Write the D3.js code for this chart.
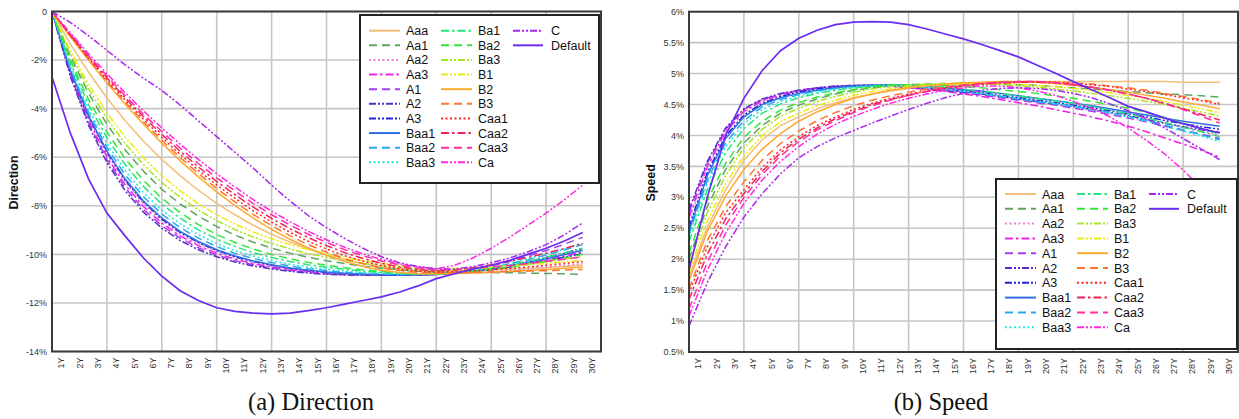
<!DOCTYPE html>
<html><head><meta charset="utf-8">
<script src="https://cdn.jsdelivr.net/npm/d3@7"></script>
<style>
html,body{margin:0;padding:0;background:#fff;}
svg{display:block;font-family:"Liberation Sans",Arial,sans-serif;}
</style></head><body>
<svg id="chart" width="1239" height="419"></svg>
<script>
const years = ["1Y","2Y","3Y","4Y","5Y","6Y","7Y","8Y","9Y","10Y","11Y","12Y","13Y","14Y","15Y","16Y","17Y","18Y","19Y","20Y","21Y","22Y","23Y","24Y","25Y","26Y","27Y","28Y","29Y","30Y"];
const seriesNames = ["Aaa","Aa1","Aa2","Aa3","A1","A2","A3","Baa1","Baa2","Baa3","Ba1","Ba2","Ba3","B1","B2","B3","Caa1","Caa2","Caa3","Ca","C","Default"];
const dirTicks = [0,-2,-4,-6,-8,-10,-12,-14];
const spdTicks = [6,5.5,5,4.5,4,3.5,3,2.5,2,1.5,1,0.5];

// Direction (%)
const dirAaa = [0,-1.33,-2.50,-3.56,-4.50,-5.34,-6.09,-6.76,-7.36,-7.90,-8.37,-8.80,-9.17,-9.49,-9.78,-10.01,-10.22,-10.38,-10.51,-10.61,-10.67,-10.70,-10.69,-10.67,-10.64,-10.61,-10.58,-10.54,-10.50,-10.45];
const dirAa1 = [0,-1.84,-3.37,-4.64,-5.70,-6.58,-7.32,-7.92,-8.43,-8.85,-9.21,-9.50,-9.74,-9.95,-10.12,-10.26,-10.38,-10.49,-10.57,-10.64,-10.70,-10.73,-10.74,-10.74,-10.75,-10.76,-10.77,-10.79,-10.80,-10.82];
const dirAa2 = [0,-2.48,-4.39,-5.87,-7.02,-7.92,-8.61,-9.15,-9.56,-9.88,-10.13,-10.32,-10.47,-10.60,-10.68,-10.75,-10.80,-10.83,-10.85,-10.85,-10.84,-10.82,-10.80,-10.77,-10.72,-10.66,-10.60,-10.53,-10.46,-10.38];
const dirAa3 = [0,-2.54,-4.49,-5.99,-7.14,-8.03,-8.71,-9.24,-9.64,-9.96,-10.20,-10.38,-10.52,-10.63,-10.71,-10.78,-10.82,-10.84,-10.85,-10.86,-10.85,-10.83,-10.79,-10.71,-10.62,-10.50,-10.37,-10.23,-10.07,-9.90];
const dirA1 = [0,-2.60,-4.59,-6.10,-7.26,-8.15,-8.82,-9.33,-9.73,-10.03,-10.26,-10.43,-10.56,-10.66,-10.74,-10.80,-10.84,-10.85,-10.85,-10.86,-10.85,-10.83,-10.76,-10.64,-10.48,-10.29,-10.07,-9.84,-9.58,-9.30];
const dirA2 = [0,-2.67,-4.69,-6.22,-7.38,-8.26,-8.92,-9.43,-9.81,-10.10,-10.32,-10.48,-10.60,-10.70,-10.77,-10.82,-10.85,-10.86,-10.86,-10.86,-10.85,-10.83,-10.78,-10.70,-10.58,-10.45,-10.30,-10.13,-9.95,-9.75];
const dirA3 = [0,-2.44,-4.33,-5.80,-6.95,-7.85,-8.55,-9.09,-9.51,-9.84,-10.10,-10.29,-10.45,-10.57,-10.66,-10.74,-10.79,-10.82,-10.84,-10.85,-10.84,-10.82,-10.78,-10.71,-10.62,-10.52,-10.40,-10.27,-10.12,-9.97];
const dirBaa1 = [0,-2.41,-4.29,-5.75,-6.90,-7.80,-8.50,-9.05,-9.47,-9.81,-10.07,-10.27,-10.43,-10.56,-10.65,-10.73,-10.79,-10.82,-10.84,-10.85,-10.84,-10.82,-10.78,-10.70,-10.59,-10.47,-10.33,-10.18,-10.01,-9.83];
const dirBaa2 = [0,-2.33,-4.16,-5.59,-6.73,-7.63,-8.34,-8.90,-9.33,-9.68,-9.96,-10.17,-10.34,-10.48,-10.59,-10.67,-10.74,-10.78,-10.81,-10.83,-10.83,-10.82,-10.77,-10.67,-10.54,-10.39,-10.22,-10.03,-9.82,-9.60];
const dirBaa3 = [0,-2.24,-4.03,-5.43,-6.56,-7.46,-8.18,-8.74,-9.19,-9.56,-9.85,-10.07,-10.26,-10.41,-10.52,-10.62,-10.69,-10.75,-10.78,-10.81,-10.82,-10.82,-10.76,-10.66,-10.53,-10.37,-10.19,-9.99,-9.78,-9.55];
const dirBa1 = [0,-2.12,-3.83,-5.20,-6.31,-7.21,-7.93,-8.51,-8.99,-9.37,-9.68,-9.93,-10.13,-10.29,-10.43,-10.53,-10.62,-10.69,-10.74,-10.79,-10.81,-10.82,-10.77,-10.69,-10.57,-10.44,-10.29,-10.12,-9.94,-9.75];
const dirBa2 = [0,-1.99,-3.63,-4.96,-6.06,-6.95,-7.69,-8.28,-8.78,-9.18,-9.51,-9.78,-10.00,-10.18,-10.33,-10.45,-10.55,-10.64,-10.70,-10.76,-10.80,-10.82,-10.78,-10.72,-10.63,-10.53,-10.41,-10.29,-10.15,-10.00];
const dirBa3 = [0,-1.72,-3.18,-4.41,-5.44,-6.31,-7.04,-7.65,-8.17,-8.61,-8.98,-9.29,-9.55,-9.77,-9.97,-10.12,-10.26,-10.37,-10.47,-10.55,-10.62,-10.67,-10.64,-10.60,-10.54,-10.47,-10.39,-10.30,-10.20,-10.10];
const dirB1 = [0,-1.61,-2.99,-4.17,-5.17,-6.03,-6.76,-7.38,-7.91,-8.36,-8.75,-9.08,-9.36,-9.60,-9.81,-9.98,-10.13,-10.26,-10.37,-10.46,-10.54,-10.60,-10.58,-10.56,-10.52,-10.48,-10.43,-10.37,-10.31,-10.25];
const dirB2 = [0,-1.04,-2.01,-2.95,-3.82,-4.64,-5.42,-6.14,-6.81,-7.43,-7.99,-8.51,-8.97,-9.38,-9.74,-10.04,-10.30,-10.50,-10.65,-10.75,-10.80,-10.80,-10.79,-10.77,-10.74,-10.70,-10.66,-10.62,-10.57,-10.52];
const dirB3 = [0,-1.01,-1.96,-2.88,-3.73,-4.54,-5.30,-6.01,-6.67,-7.29,-7.84,-8.36,-8.82,-9.23,-9.60,-9.91,-10.18,-10.39,-10.56,-10.67,-10.74,-10.76,-10.75,-10.74,-10.73,-10.71,-10.69,-10.67,-10.65,-10.62];
const dirCaa1 = [0,-0.99,-1.92,-2.81,-3.65,-4.44,-5.18,-5.88,-6.54,-7.14,-7.69,-8.21,-8.67,-9.09,-9.46,-9.78,-10.06,-10.28,-10.46,-10.60,-10.69,-10.73,-10.71,-10.68,-10.63,-10.58,-10.52,-10.45,-10.38,-10.30];
const dirCaa2 = [0,-0.96,-1.87,-2.73,-3.56,-4.33,-5.06,-5.75,-6.40,-7.00,-7.54,-8.06,-8.52,-8.94,-9.31,-9.64,-9.93,-10.17,-10.37,-10.52,-10.63,-10.69,-10.64,-10.55,-10.43,-10.29,-10.13,-9.95,-9.76,-9.55];
const dirCaa3 = [0,-0.93,-1.82,-2.66,-3.47,-4.23,-4.94,-5.62,-6.26,-6.85,-7.39,-7.91,-8.37,-8.79,-9.17,-9.51,-9.81,-10.06,-10.27,-10.44,-10.57,-10.65,-10.63,-10.58,-10.52,-10.46,-10.38,-10.29,-10.20,-10.10];
const dirCa = [0,-0.88,-1.74,-2.56,-3.35,-4.09,-4.79,-5.46,-6.09,-6.68,-7.23,-7.75,-8.22,-8.65,-9.05,-9.40,-9.71,-9.98,-10.21,-10.39,-10.52,-10.60,-10.45,-10.15,-9.75,-9.30,-8.80,-8.30,-7.75,-7.15];
const dirC = [0,-0.45,-1.00,-1.60,-2.20,-2.75,-3.25,-3.85,-4.50,-5.15,-5.80,-6.45,-7.15,-7.80,-8.40,-8.90,-9.35,-9.75,-10.10,-10.35,-10.50,-10.60,-10.60,-10.50,-10.35,-10.15,-9.90,-9.60,-9.20,-8.70];
const dirDefault = [-2.70,-5.00,-6.90,-8.30,-9.25,-10.15,-10.90,-11.50,-11.90,-12.20,-12.35,-12.42,-12.45,-12.42,-12.32,-12.20,-12.05,-11.90,-11.75,-11.55,-11.30,-11.00,-10.80,-10.60,-10.45,-10.25,-10.00,-9.75,-9.45,-9.10];

// Speed (%)
const spdAaa = [1.72,2.52,3.12,3.60,3.93,4.16,4.30,4.43,4.53,4.61,4.67,4.72,4.76,4.79,4.82,4.84,4.85,4.86,4.87,4.87,4.87,4.87,4.87,4.87,4.87,4.87,4.87,4.86,4.86,4.86];
const spdAa1 = [2.00,2.85,3.45,3.88,4.16,4.36,4.49,4.59,4.67,4.73,4.77,4.80,4.82,4.83,4.84,4.84,4.84,4.83,4.82,4.81,4.79,4.77,4.75,4.73,4.71,4.69,4.67,4.66,4.64,4.62];
const spdAa2 = [2.62,3.47,4.04,4.37,4.55,4.65,4.71,4.76,4.79,4.80,4.81,4.80,4.78,4.76,4.73,4.70,4.66,4.62,4.58,4.54,4.50,4.46,4.41,4.36,4.31,4.25,4.19,4.13,4.07,4.00];
const spdAa3 = [2.68,3.50,4.06,4.39,4.56,4.66,4.72,4.76,4.79,4.80,4.80,4.79,4.77,4.74,4.71,4.67,4.63,4.58,4.53,4.48,4.42,4.36,4.30,4.23,4.15,4.06,3.96,3.86,3.76,3.65];
const spdA1 = [2.75,3.55,4.10,4.42,4.58,4.67,4.73,4.77,4.79,4.81,4.81,4.80,4.78,4.75,4.72,4.69,4.65,4.61,4.57,4.53,4.49,4.44,4.39,4.34,4.28,4.22,4.15,4.08,4.02,3.95];
const spdA2 = [2.80,3.58,4.12,4.43,4.59,4.68,4.73,4.77,4.80,4.81,4.81,4.80,4.78,4.76,4.73,4.70,4.67,4.63,4.59,4.55,4.51,4.47,4.42,4.37,4.32,4.26,4.20,4.14,4.09,4.05];
const spdA3 = [2.52,3.40,3.99,4.33,4.52,4.63,4.70,4.75,4.78,4.80,4.81,4.81,4.80,4.78,4.75,4.72,4.69,4.65,4.61,4.57,4.53,4.49,4.45,4.40,4.35,4.30,4.24,4.19,4.14,4.10];
const spdBaa1 = [2.45,3.35,3.95,4.30,4.50,4.61,4.68,4.73,4.77,4.80,4.81,4.82,4.81,4.79,4.77,4.74,4.71,4.68,4.64,4.60,4.56,4.52,4.48,4.43,4.38,4.33,4.28,4.23,4.19,4.15];
const spdBaa2 = [2.40,3.28,3.88,4.24,4.46,4.58,4.66,4.72,4.76,4.79,4.80,4.80,4.79,4.77,4.74,4.71,4.67,4.63,4.59,4.55,4.51,4.47,4.42,4.37,4.31,4.24,4.17,4.09,4.01,3.93];
const spdBaa3 = [2.35,3.22,3.82,4.19,4.42,4.55,4.64,4.70,4.75,4.78,4.80,4.81,4.80,4.78,4.75,4.72,4.68,4.64,4.60,4.56,4.52,4.47,4.42,4.36,4.30,4.23,4.15,4.07,3.99,3.90];
const spdBa1 = [2.28,3.12,3.72,4.11,4.36,4.51,4.61,4.68,4.73,4.77,4.80,4.81,4.81,4.80,4.78,4.75,4.72,4.68,4.64,4.60,4.56,4.52,4.47,4.41,4.35,4.28,4.21,4.13,4.06,3.98];
const spdBa2 = [2.10,2.95,3.55,3.97,4.23,4.41,4.53,4.62,4.69,4.74,4.78,4.81,4.82,4.82,4.81,4.79,4.77,4.74,4.71,4.68,4.64,4.60,4.55,4.50,4.44,4.37,4.29,4.20,4.11,4.02];
const spdBa3 = [1.92,2.75,3.35,3.80,4.10,4.31,4.44,4.55,4.63,4.70,4.75,4.79,4.81,4.83,4.84,4.84,4.83,4.82,4.80,4.78,4.75,4.72,4.68,4.64,4.60,4.55,4.50,4.44,4.38,4.31];
const spdB1 = [1.80,2.62,3.22,3.67,4.00,4.22,4.36,4.48,4.57,4.65,4.71,4.75,4.79,4.81,4.83,4.84,4.84,4.84,4.83,4.81,4.79,4.76,4.73,4.69,4.65,4.60,4.55,4.49,4.43,4.37];
const spdB2 = [1.65,2.45,3.02,3.45,3.78,4.03,4.23,4.38,4.50,4.60,4.67,4.73,4.77,4.80,4.83,4.85,4.86,4.87,4.87,4.86,4.84,4.81,4.78,4.74,4.70,4.65,4.60,4.54,4.49,4.43];
const spdB3 = [1.52,2.30,2.85,3.25,3.60,3.87,4.07,4.24,4.37,4.48,4.57,4.64,4.70,4.75,4.79,4.82,4.84,4.86,4.87,4.87,4.86,4.85,4.83,4.80,4.77,4.73,4.68,4.63,4.58,4.52];
const spdCaa1 = [1.45,2.20,2.75,3.12,3.48,3.77,3.98,4.16,4.30,4.42,4.52,4.60,4.67,4.72,4.77,4.80,4.83,4.85,4.86,4.87,4.86,4.84,4.82,4.79,4.75,4.71,4.66,4.61,4.56,4.50];
const spdCaa2 = [1.35,2.08,2.65,3.06,3.42,3.72,3.94,4.12,4.27,4.39,4.50,4.58,4.65,4.71,4.76,4.80,4.83,4.85,4.86,4.86,4.85,4.82,4.78,4.73,4.67,4.60,4.52,4.43,4.34,4.25];
const spdCaa3 = [1.20,1.95,2.55,3.00,3.37,3.67,3.90,4.09,4.24,4.37,4.48,4.57,4.65,4.71,4.77,4.81,4.84,4.86,4.87,4.87,4.85,4.82,4.78,4.73,4.67,4.60,4.51,4.42,4.31,4.20];
const spdCa = [1.08,1.82,2.42,2.90,3.28,3.58,3.82,4.02,4.18,4.31,4.42,4.52,4.60,4.67,4.73,4.77,4.80,4.80,4.77,4.72,4.65,4.55,4.44,4.30,4.12,3.92,3.70,3.44,3.15,2.85];
const spdC = [0.92,1.62,2.20,2.68,3.06,3.38,3.64,3.82,3.96,4.08,4.20,4.31,4.42,4.52,4.61,4.68,4.73,4.76,4.77,4.76,4.73,4.68,4.61,4.51,4.40,4.27,4.12,3.95,3.78,3.61];
const spdDefault = [1.83,3.00,4.00,4.60,5.05,5.37,5.57,5.70,5.79,5.83,5.84,5.83,5.79,5.72,5.64,5.56,5.47,5.37,5.27,5.14,5.01,4.87,4.74,4.61,4.47,4.38,4.28,4.19,4.11,4.04];

const dirSeries = [dirAaa,dirAa1,dirAa2,dirAa3,dirA1,dirA2,dirA3,dirBaa1,dirBaa2,dirBaa3,dirBa1,dirBa2,dirBa3,dirB1,dirB2,dirB3,dirCaa1,dirCaa2,dirCaa3,dirCa,dirC,dirDefault];
const spdSeries = [spdAaa,spdAa1,spdAa2,spdAa3,spdA1,spdA2,spdA3,spdBaa1,spdBaa2,spdBaa3,spdBa1,spdBa2,spdBa3,spdB1,spdB2,spdB3,spdCaa1,spdCaa2,spdCaa3,spdCa,spdC,spdDefault];

// styles
const colors = {Aaa:"#f2bf78",Aa1:"#5fa45f",Aa2:"#f07fd0",Aa3:"#f022e8",A1:"#a83cf0",A2:"#5a2cc8",A3:"#2222d8",Baa1:"#2f6fe0",Baa2:"#2aa6ec",Baa3:"#22e6e6",Ba1:"#22e67a",Ba2:"#33e633",Ba3:"#a8e622",B1:"#ecec10",B2:"#ffa830",B3:"#ff7430",Caa1:"#ff2424",Caa2:"#ee2258",Caa3:"#ff2ea2",Ca:"#ff28e4",C:"#a826ee",Default:"#6a2cf0"};
const LD="8,5", DT="2,2.5", DD="8,3,2.5,3", DDD="7,2,2,2,2,2";
const dashes = {Aaa:null,Aa1:LD,Aa2:DT,Aa3:DD,A1:LD,A2:DDD,A3:DDD,Baa1:null,Baa2:LD,Baa3:DT,Ba1:DD,Ba2:LD,Ba3:DDD,B1:DDD,B2:null,B3:LD,Caa1:DT,Caa2:DD,Caa3:LD,Ca:DDD,C:DDD,Default:null};

const svg = d3.select("#chart");

function drawPanel(cfg){
  const x = d3.scaleBand().domain(years).range([cfg.x0, cfg.x1]);
  const y = d3.scaleLinear().domain(cfg.domain).range([cfg.yb, cfg.yt]);
  const g = svg.append("g");
  g.selectAll(".hg").data(cfg.ticks).enter().append("line")
    .attr("x1",cfg.x0).attr("x2",cfg.x1).attr("y1",d=>y(d)).attr("y2",d=>y(d))
    .attr("stroke","#c6c6c6").attr("stroke-width",1.6);
  g.selectAll(".vg").data(years.filter((d,i)=>i>0 && i%3===0)).enter().append("line")
    .attr("x1",d=>x(d)).attr("x2",d=>x(d)).attr("y1",cfg.yt).attr("y2",cfg.yb)
    .attr("stroke","#c6c6c6").attr("stroke-width",1.6);
  const cid = "clip"+cfg.id;
  svg.append("clipPath").attr("id",cid).append("rect")
    .attr("x",cfg.x0).attr("y",cfg.yt).attr("width",cfg.x1-cfg.x0).attr("height",cfg.yb-cfg.yt);
  const line = d3.line().x((d,i)=>x(years[i])).y(d=>y(d));
  const lg = g.append("g").attr("clip-path",`url(#${cid})`);
  seriesNames.forEach((name,k)=>{
    lg.append("path").datum(cfg.series[k]).attr("d",line)
      .attr("fill","none").attr("stroke",colors[name])
      .attr("stroke-width", name==="Default"?1.7:1.5)
      .attr("stroke-dasharray",dashes[name]);
  });
  g.append("rect").attr("x",cfg.x0).attr("y",cfg.yt).attr("width",cfg.x1-cfg.x0).attr("height",cfg.yb-cfg.yt)
    .attr("fill","none").attr("stroke","#3a3a3a").attr("stroke-width",2);
  g.selectAll(".yl").data(cfg.ticks).enter().append("text")
    .attr("x",cfg.x0-5).attr("y",d=>y(d)).attr("dy","0.35em")
    .attr("text-anchor","end").attr("font-size",9).attr("fill","#333")
    .text(cfg.fmt);
  g.selectAll(".xl").data(years).enter().append("text")
    .attr("transform",d=>`translate(${x(d)+x.bandwidth()/2},${cfg.yb+6}) rotate(-90)`)
    .attr("dy","0.35em").attr("text-anchor","end").attr("font-size",9).attr("fill","#333")
    .text(d=>d);
  g.append("text").attr("transform",`translate(${cfg.titleX},${(cfg.yt+cfg.yb)/2+1}) rotate(-90)`)
    .attr("dy","0.35em").attr("text-anchor","middle").attr("font-size",12.5).attr("font-weight","bold")
    .attr("fill","#111").text(cfg.title);
  const L = cfg.legend;
  const lgd = svg.append("g").attr("transform",`translate(${L.x},${L.y})`);
  lgd.append("rect").attr("width",L.w).attr("height",L.h).attr("fill","#fff")
    .attr("stroke","#222").attr("stroke-width",2);
  const colX = [[9,40,46],[81,112,118],[153,183,191]];
  seriesNames.forEach((name,k)=>{
    const c = Math.floor(k/10), r = k%10;
    const yy = L.r0 + r*L.step;
    lgd.append("line").attr("x1",colX[c][0]).attr("x2",colX[c][1]).attr("y1",yy).attr("y2",yy)
      .attr("stroke",colors[name]).attr("stroke-width",2).attr("stroke-dasharray",dashes[name]);
    lgd.append("text").attr("x",colX[c][2]).attr("y",yy).attr("dy","0.36em")
      .attr("font-size",12.5).attr("fill","#111").text(name);
  });
  svg.append("text").attr("x",cfg.capX).attr("y",410).attr("text-anchor","middle")
    .attr("font-family","'Liberation Serif','Times New Roman',serif").attr("font-size",24.5)
    .attr("fill","#111").text(cfg.caption);
}

drawPanel({id:"a",x0:52,x1:601,yt:11.5,yb:351.5,domain:[-14,0],ticks:dirTicks,
  fmt:d=>d===0?"0":d+"%",series:dirSeries,title:"Direction",titleX:14,
  legend:{x:360,y:15,w:239,h:168,r0:15.7,step:14.62},caption:"(a) Direction",capX:311});
drawPanel({id:"b",x0:689,x1:1238,yt:11.7,yb:352,domain:[0.5,6],ticks:spdTicks,
  fmt:d=>d+"%",series:spdSeries,title:"Speed",titleX:651,
  legend:{x:996,y:179,w:241,h:170,r0:15,step:14.8},caption:"(b) Speed",capX:941});
</script>
</body></html>
